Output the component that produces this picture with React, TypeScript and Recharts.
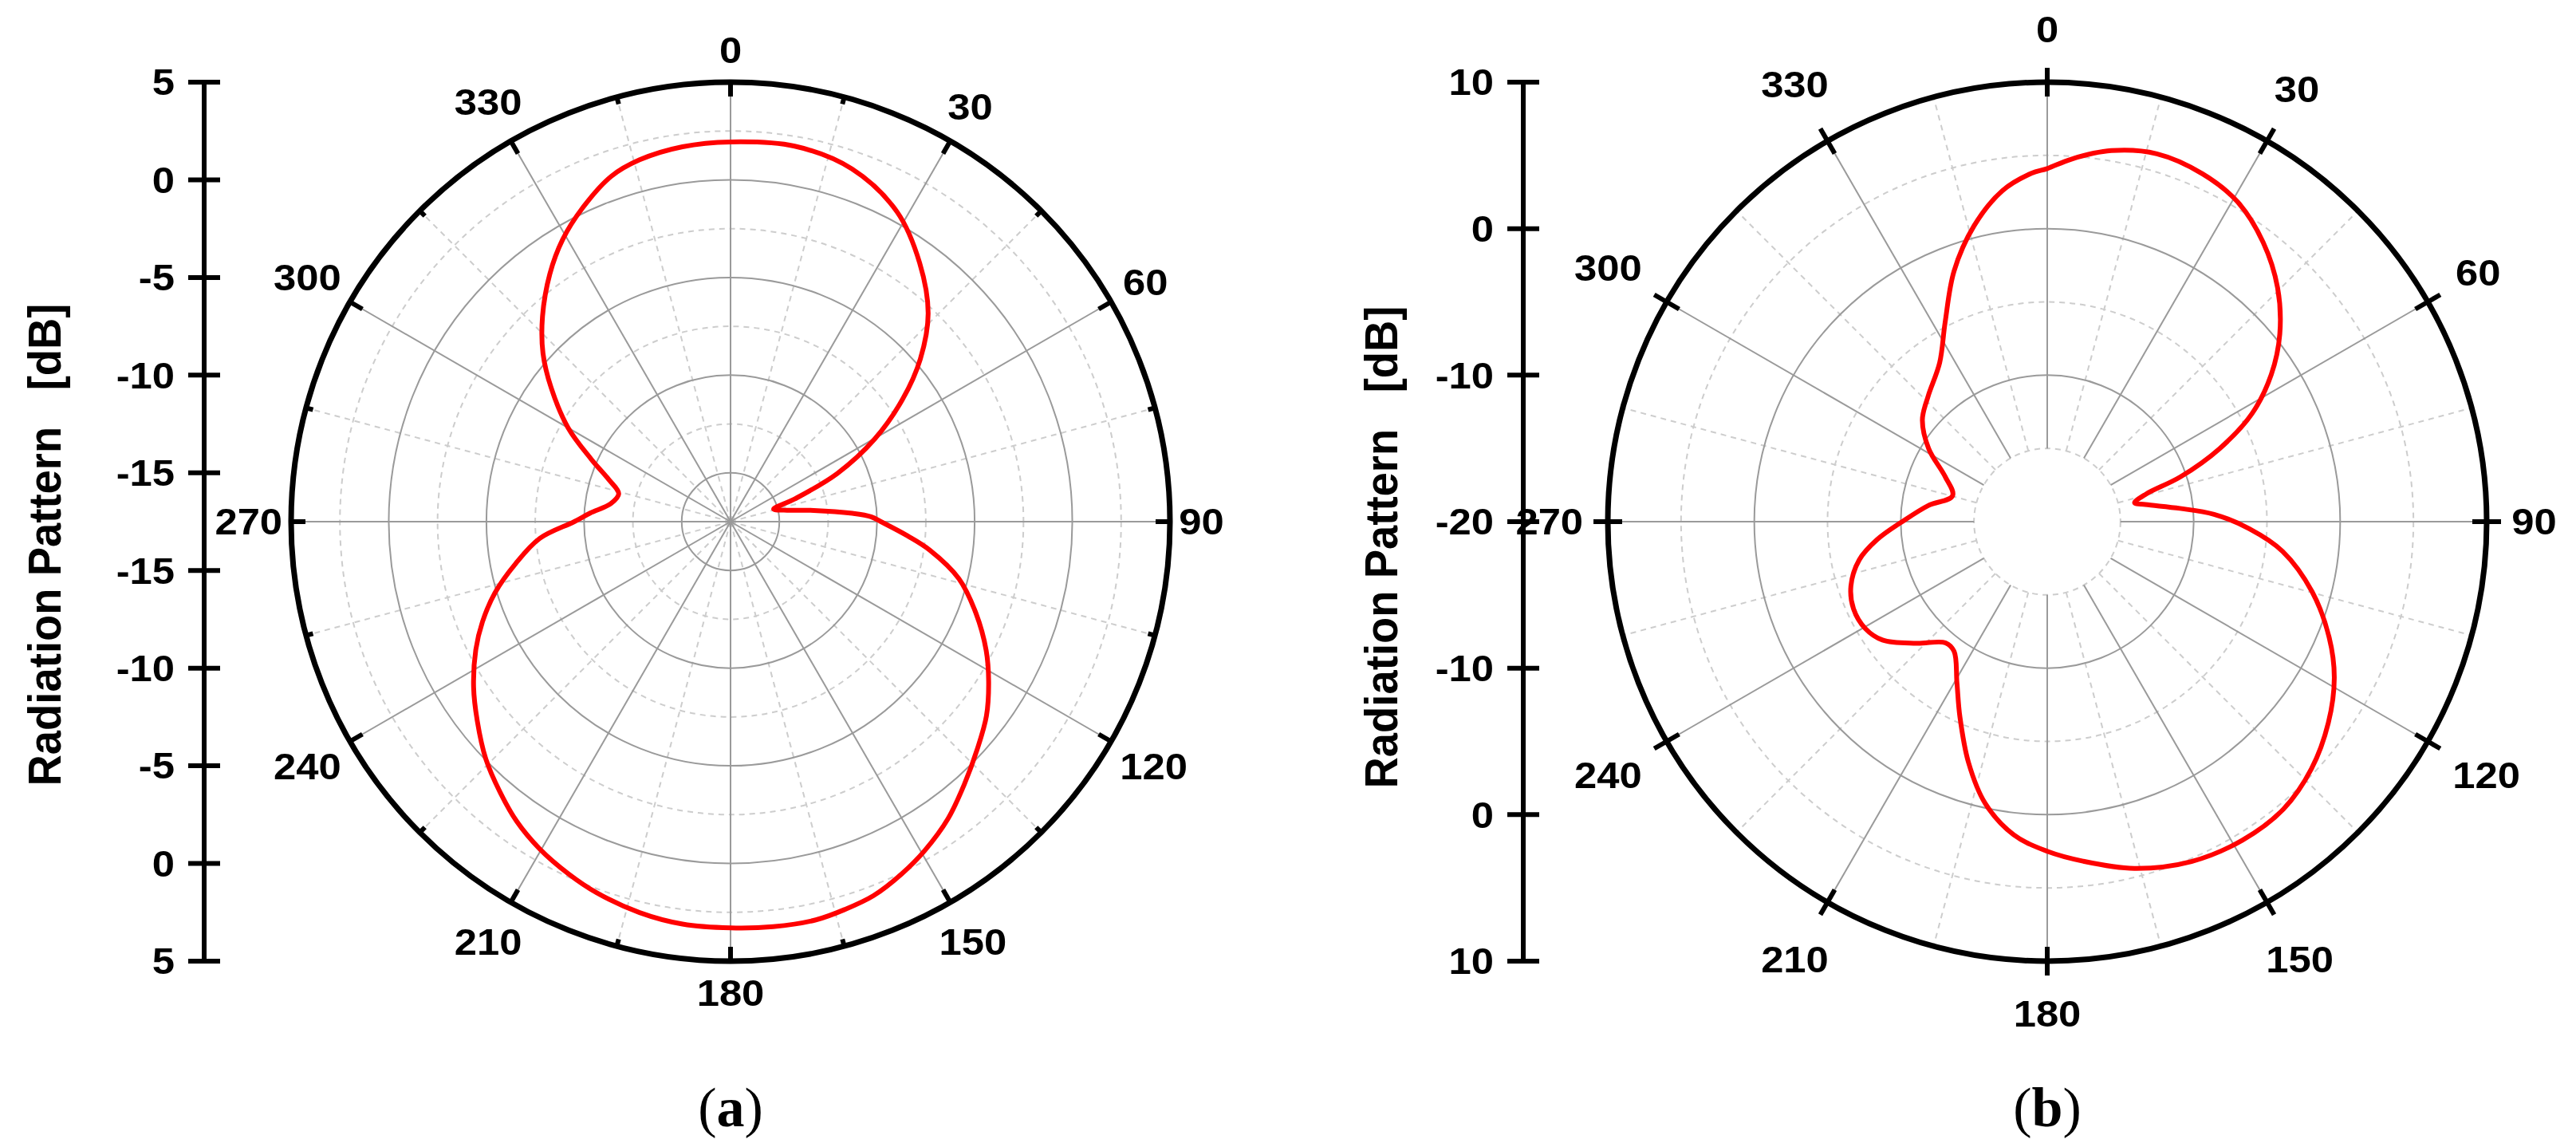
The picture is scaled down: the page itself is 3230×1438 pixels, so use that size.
import React from "react";
import {
  RadarChart,
  Radar,
  PolarGrid,
  PolarAngleAxis,
  PolarRadiusAxis,
  LineChart,
  XAxis,
  YAxis,
} from "recharts";

// (a) radiation pattern: angle in degrees, gain in dB
const patternADeg = [
  0, 9.7, 19, 28.3, 36.2, 43.5, 49.4, 54.6, 60.2, 65.7, 70.5, 73.7, 77.9, 82.3,
  86.1, 88, 90, 94.6, 98.1, 104, 110.4, 116.7, 121.8, 127.2, 132.8, 138.3, 143.8,
  149.4, 154.1, 159.1, 163.6, 167.9, 174, 180, 186.8, 193.1, 199.8, 204.7, 210.2,
  215.5, 220.4, 225.9, 231.8, 237.2, 243.3, 248, 253.2, 259, 265, 270, 273.5,
  278.6, 284, 289.1, 294.1, 300, 306.7, 311.9, 317.5, 323.9, 329.2, 334.7, 340.9,
  345.9, 352.7,
];
const patternADb = [
  1.94, 2.0, 1.6, 0.5, -1.1, -2.8, -4.7, -6.7, -9.0, -11.5, -14.0, -15.2, -14.7,
  -13.2, -11.25, -10.3, -9.8, -8.4, -7.2, -5.45, -4.1, -2.85, -1.95, -1.05, -0.3,
  0.5, 1.35, 2.05, 2.55, 3.0, 3.2, 3.35, 3.35, 3.3, 3.25, 3.05, 2.7, 2.35, 1.9,
  1.35, 0.7, -0.05, -1.0, -1.85, -2.9, -3.8, -4.9, -6.3, -7.7, -9.5, -10.3, -11.3,
  -11.6, -10.9, -9.7, -7.9, -6.05, -4.6, -3.25, -1.8, -0.7, 0.25, 1.2, 1.6, 1.85,
];

// (b) radiation pattern
const patternBDeg = [
  0, 3.8, 9.8, 16.6, 24.1, 30.8, 37.7, 44.6, 51.1, 56.7, 62.2, 67, 71.4, 74.4,
  77.8, 80.1, 84.3, 87.5, 92, 97.2, 104.8, 112.3, 118.5, 125.6, 133.1, 140.6,
  148.5, 157, 165.9, 174, 180, 186.1, 192.4, 198.1, 204.1, 209.3, 215.7, 220,
  227.1, 234.3, 239.5, 245.8, 251.9, 258.5, 263.9, 270, 277.7, 285.3, 293.7,
  301.6, 309.2, 316.4, 325.9, 332.9, 339.6, 346.1, 352.3, 357.4,
];
const patternBDb = [
  4.1, 4.8, 5.7, 6.2, 6.0, 5.4, 4.1, 2.4, 0.4, -1.7, -4.2, -7.2, -10.4, -13.0,
  -13.9, -13.2, -10.9, -8.6, -6.2, -3.8, -1.3, 0.8, 2.3, 3.6, 4.7, 5.4, 5.5, 5.2,
  4.4, 3.3, 2.5, 1.5, -0.3, -2.7, -5.4, -7.4, -9.1, -9.2, -7.8, -6.15, -5.6,
  -5.5, -5.9, -6.9, -8.3, -10.1, -11.8, -13.3, -12.4, -10.5, -9.0, -8.2, -6.9,
  -4.7, -1.75, 0.8, 2.8, 3.8,
];

// radial scale ticks (dB)
const radialTicksA = [-15, -10, -5, 0, 5];
const radialTicksB = [-20, -10, 0, 10];
const majorRingsA = [-15, -10, -5, 0];
const minorRingsA = [-12.5, -7.5, -2.5, 2.5];
const majorRingsB = [-10, 0];
const minorRingsB = [-15, -5, 5];

// angular ticks (degrees, clockwise from top)
const angleTicks = [
  0, 15, 30, 45, 60, 75, 90, 105, 120, 135, 150, 165, 180, 195, 210, 225, 240,
  255, 270, 285, 300, 315, 330, 345,
];
const majorAngles = [0, 30, 60, 90, 120, 150, 180, 210, 240, 270, 300, 330];
const minorAngles = [15, 45, 75, 105, 135, 165, 195, 225, 255, 285, 315, 345];

const PAGE_W = 3230;
const PAGE_H = 1438;
const PANEL_W = 1615;
const R = 551;
const CY = 654;
const AXIS_BOX_W = 300;
const AXIS_X = 256;
const PAD = 40;
const FONT = '"Liberation Sans", Arial, Helvetica, sans-serif';
const LABEL_SIZE = 47;
const LABEL_STRETCH = 1.08;

const toChartAngle = (deg: number) => 90 - deg;

function fmt(v: number) {
  const r = Math.round(v * 10) / 10;
  return String(r === 0 ? 0 : r);
}

// closed centripetal Catmull-Rom through the points recharts computed
function smoothClosed(pts: { x: number; y: number }[]) {
  const n = pts.length;
  if (n < 3) return "";
  let d = `M${pts[0].x},${pts[0].y}`;
  for (let i = 0; i < n; i++) {
    const p0 = pts[(i - 1 + n) % n];
    const p1 = pts[i];
    const p2 = pts[(i + 1) % n];
    const p3 = pts[(i + 2) % n];
    const l01 = Math.hypot(p1.x - p0.x, p1.y - p0.y);
    const l12 = Math.hypot(p2.x - p1.x, p2.y - p1.y);
    const l23 = Math.hypot(p3.x - p2.x, p3.y - p2.y);
    const d1 = Math.sqrt(l01);
    const d2 = Math.sqrt(l12);
    const d3 = Math.sqrt(l23);
    let b1x = p1.x;
    let b1y = p1.y;
    let b2x = p2.x;
    let b2y = p2.y;
    if (d1 > 1e-6 && d2 > 1e-6) {
      const k = 3 * d1 * (d1 + d2);
      const m = 2 * l01 + 3 * d1 * d2 + l12;
      b1x = (l01 * p2.x - l12 * p0.x + m * p1.x) / k;
      b1y = (l01 * p2.y - l12 * p0.y + m * p1.y) / k;
    }
    if (d3 > 1e-6 && d2 > 1e-6) {
      const k = 3 * d3 * (d3 + d2);
      const m = 2 * l23 + 3 * d3 * d2 + l12;
      b2x = (l23 * p1.x - l12 * p3.x + m * p2.x) / k;
      b2y = (l23 * p1.y - l12 * p3.y + m * p2.y) / k;
    }
    d += ` C${b1x},${b1y} ${b2x},${b2y} ${p2.x},${p2.y}`;
  }
  return d + " Z";
}

function SmoothRadar(props: any) {
  return (
    <path
      d={smoothClosed(props.points || [])}
      fill="none"
      stroke="#ff0000"
      strokeWidth={6}
      strokeLinejoin="round"
    />
  );
}

function Label(p: { x: number; y: number; anchor: string; text: string }) {
  return (
    <text
      transform={`translate(${p.x} ${p.y}) scale(${LABEL_STRETCH} 1)`}
      x={0}
      y={0}
      textAnchor={p.anchor}
      dominantBaseline="central"
      fontFamily={FONT}
      fontWeight="bold"
      fontSize={LABEL_SIZE}
      fill="#000"
    >
      {p.text}
    </text>
  );
}

function AngleTick(p: any) {
  const v = Number(p.payload?.value);
  if (!(v >= 0 && v < 360)) return <g />;
  const a = (v * Math.PI) / 180;
  const s = Math.sin(a);
  const c = Math.cos(a);
  const pt = (r: number) => [p.ox + r * s, p.oy - r * c];
  const major = v % 30 === 0;
  const parts: React.ReactNode[] = [];
  if (p.mode === "in") {
    const [x1, y1] = pt(R);
    const [x2, y2] = pt(R - (major ? 18 : 9));
    parts.push(
      <line key="t" x1={x1} y1={y1} x2={x2} y2={y2} stroke="#000" strokeWidth={6} />
    );
  } else if (major) {
    const [x1, y1] = pt(R - 18);
    const [x2, y2] = pt(R + 18);
    parts.push(
      <line key="t" x1={x1} y1={y1} x2={x2} y2={y2} stroke="#000" strokeWidth={6} />
    );
  }
  if (major) {
    const label = String(v);
    const w = label.length * 27.5;
    const h = 34;
    const rc =
      R + p.gapA + p.gapB * Math.abs(c) + (Math.abs(s) * w) / 2 + (Math.abs(c) * h) / 2;
    const [tx, ty] = pt(rc);
    parts.push(<Label key="l" x={tx} y={ty} anchor="middle" text={label} />);
  }
  return <g>{parts}</g>;
}

function SideTick(p: any) {
  const pos = Number(p.payload?.value);
  const y = p.y;
  return (
    <g>
      <line x1={AXIS_X - 20} x2={AXIS_X + 20} y1={y} y2={y} stroke="#000" strokeWidth={6} />
      <Label x={AXIS_X - 37} y={y} anchor="end" text={fmt(p.center + Math.abs(pos))} />
    </g>
  );
}

function AxisTitle(p: any) {
  return (
    <text
      x={p.tx}
      y={p.ty}
      transform={`rotate(-90 ${p.tx} ${p.ty})`}
      textAnchor="middle"
      fontFamily={FONT}
      fontWeight="bold"
      fontSize={58}
      fill="#000"
      textLength={605}
      lengthAdjust="spacingAndGlyphs"
      style={{ whiteSpace: "pre" }}
    >
      {"Radiation Pattern   [dB]"}
    </text>
  );
}

type Panel = {
  left: number;
  cx: number;
  center: number;
  inner: number;
  outer: number;
  deg: number[];
  gain: number[];
  radialTicks: number[];
  majorRings: number[];
  minorRings: number[];
  mode: "in" | "cross";
  gapA: number;
  gapB: number;
  axisLeft: number;
  titleX: number;
  titleY: number;
};

function PolarPanel({ cfg }: { cfg: Panel }) {
  const span = cfg.outer - cfg.center;
  const ring = (v: number) => ((v - cfg.center) / span) * R;
  const rows = cfg.deg.map((d, i) => ({ deg: d, gain: cfg.gain[i] }));
  const positions: number[] = [];
  cfg.radialTicks.forEach((t) => {
    const p = t - cfg.center;
    positions.push(p);
    if (p !== 0) positions.push(-p);
  });
  positions.sort((a, b) => a - b);
  const sideRows = positions.map((p) => ({ pos: p }));
  return (
    <>
      <div style={{ position: "absolute", left: cfg.left, top: 0 }}>
        <RadarChart
          width={PANEL_W}
          height={PAGE_H}
          cx={cfg.cx}
          cy={CY}
          outerRadius={R}
          innerRadius={ring(cfg.inner)}
          startAngle={90}
          endAngle={-270}
          margin={{ top: 0, right: 0, bottom: 0, left: 0 }}
          data={rows}
        >
          <PolarGrid
            gridType="circle"
            polarAngles={minorAngles.map(toChartAngle)}
            polarRadius={cfg.minorRings.map(ring)}
            stroke="#cdcdcd"
            strokeWidth={2}
            strokeDasharray="7 6"
          />
          <PolarGrid
            gridType="circle"
            polarAngles={majorAngles.map(toChartAngle)}
            polarRadius={cfg.majorRings.map(ring)}
            stroke="#9a9a9a"
            strokeWidth={2}
          />
          <PolarRadiusAxis
            type="number"
            domain={[cfg.inner, cfg.outer]}
            allowDataOverflow
            axisLine={false}
            tick={false}
            tickLine={false}
          />
          <PolarAngleAxis
            dataKey="deg"
            type="number"
            domain={[0, 360]}
            ticks={angleTicks as any}
            tickCount={25}
            allowDataOverflow
            axisLineType="circle"
            axisLine={{ stroke: "#000", strokeWidth: 7 }}
            tickLine={false}
            tick={
              <AngleTick
                ox={cfg.cx}
                oy={CY}
                mode={cfg.mode}
                gapA={cfg.gapA}
                gapB={cfg.gapB}
              />
            }
          />
          <Radar
            dataKey="gain"
            stroke="#ff0000"
            strokeWidth={6}
            fill="none"
            fillOpacity={0}
            dot={false}
            shape={(props: any) => <SmoothRadar {...props} />}
            isAnimationActive={false}
          />
        </RadarChart>
      </div>
      <div style={{ position: "absolute", left: cfg.axisLeft, top: CY - R - PAD }}>
        <LineChart
          width={AXIS_BOX_W}
          height={2 * R + 2 * PAD}
          data={sideRows}
          margin={{ top: PAD, bottom: PAD, left: 0, right: 0 }}
        >
          <XAxis dataKey="pos" type="number" hide />
          <YAxis
            type="number"
            domain={[-span, span]}
            ticks={positions}
            interval={0}
            width={AXIS_X}
            allowDataOverflow
            axisLine={{ stroke: "#000", strokeWidth: 6 }}
            tickLine={false}
            tick={<SideTick center={cfg.center} />}
            label={<AxisTitle tx={cfg.titleX} ty={cfg.titleY - (CY - R - PAD)} />}
          />
        </LineChart>
      </div>
    </>
  );
}

const panelA: Panel = {
  left: 0,
  cx: 916,
  center: -17.5,
  inner: -17.5,
  outer: 5,
  deg: patternADeg,
  gain: patternADb,
  radialTicks: radialTicksA,
  majorRings: majorRingsA,
  minorRings: minorRingsA,
  mode: "in",
  gapA: 12,
  gapB: 11,
  axisLeft: 0,
  titleX: 76,
  titleY: 683,
};

const panelB: Panel = {
  left: PANEL_W,
  cx: 2567 - PANEL_W,
  center: -20,
  inner: -15,
  outer: 10,
  deg: patternBDeg,
  gain: patternBDb,
  radialTicks: radialTicksB,
  majorRings: majorRingsB,
  minorRings: minorRingsB,
  mode: "cross",
  gapA: 32,
  gapB: 17,
  axisLeft: 1910 - AXIS_X,
  titleX: 1752 - (1910 - AXIS_X),
  titleY: 686,
};

export default function App() {
  return (
    <div
      style={{
        position: "absolute",
        left: 0,
        top: 0,
        width: PAGE_W,
        height: PAGE_H,
        background: "#fff",
        overflow: "hidden",
      }}
    >
      <PolarPanel cfg={panelA} />
      <PolarPanel cfg={panelB} />
      <svg
        width={PAGE_W}
        height={PAGE_H}
        style={{ position: "absolute", left: 0, top: 0, pointerEvents: "none" }}
      >
        <text x={916} y={1412} textAnchor="middle" fontFamily='"Liberation Serif", "Times New Roman", serif' fontSize={70}>
          (<tspan fontWeight="bold">a</tspan>)
        </text>
        <text x={2567} y={1412} textAnchor="middle" fontFamily='"Liberation Serif", "Times New Roman", serif' fontSize={70}>
          (<tspan fontWeight="bold">b</tspan>)
        </text>
      </svg>
    </div>
  );
}
